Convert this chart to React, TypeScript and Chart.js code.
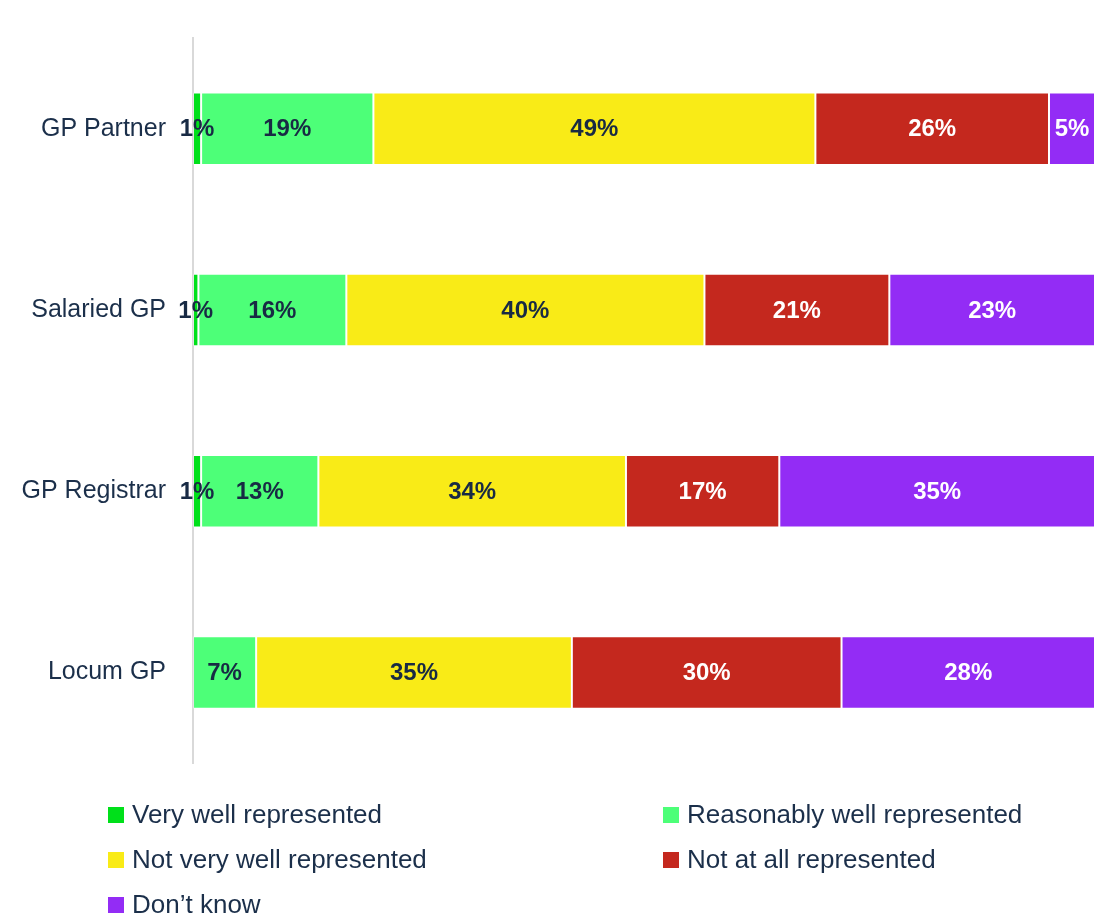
import React, { useEffect, useRef } from "react";
import { Chart, registerables } from "chart.js";

Chart.register(...registerables);

const categories = ["GP Partner", "Salaried GP", "GP Registrar", "Locum GP"];
const seriesNames = [
  "Very well represented",
  "Reasonably well represented",
  "Not very well represented",
  "Not at all represented",
  "Don\u2019t know",
];
const veryWell = [0.9, 0.6, 0.9, 0];
const reasonablyWell = [19.1, 16.4, 13.0, 7.0];
const notVeryWell = [49.0, 39.7, 34.1, 35.0];
const notAtAll = [25.9, 20.5, 17.0, 29.9];
const dontKnow = [5.1, 22.8, 35.0, 28.1];
const seriesColors = ["#00e01a", "#4dff78", "#f9eb17", "#c4281e", "#932cf5"];
const labelColors = ["#182a44", "#182a44", "#182a44", "#ffffff", "#ffffff"];

const TEXT = "#1b2f4a";

const labelPlugin = {
  id: "barLabels",
  afterDatasetsDraw(chart: any) {
    const ctx = chart.ctx;
    ctx.save();
    ctx.font = "bold 24px 'Liberation Sans', Arial, sans-serif";
    ctx.textAlign = "center";
    ctx.textBaseline = "middle";
    chart.data.datasets.forEach((ds: any, di: number) => {
      const meta = chart.getDatasetMeta(di);
      meta.data.forEach((el: any, i: number) => {
        const v = ds.data[i];
        if (!v) return;
        const p = el.getProps(["x", "y", "base"], true);
        ctx.fillStyle = labelColors[di];
        ctx.fillText(Math.round(v) + "%", (p.x + p.base) / 2, p.y + 1);
      });
    });
    ctx.restore();
  },
};

const legendPlugin = {
  id: "customLegend",
  afterDraw(chart: any) {
    const ctx = chart.ctx;
    ctx.save();
    ctx.font = "26px 'Liberation Sans', Arial, sans-serif";
    ctx.textBaseline = "middle";
    ctx.textAlign = "left";
    const cols = [108, 663];
    const rows = [815, 860, 905];
    chart.data.datasets.forEach((ds: any, i: number) => {
      const x = cols[i % 2];
      const y = rows[Math.floor(i / 2)];
      ctx.fillStyle = ds.backgroundColor;
      ctx.fillRect(x, y - 8, 16, 16);
      ctx.fillStyle = TEXT;
      ctx.fillText(ds.label, x + 24, y + 1);
    });
    ctx.restore();
  },
};

export default function App() {
  const ref = useRef<HTMLCanvasElement | null>(null);
  useEffect(() => {
    document.body.style.margin = "0";
    const seriesData = [veryWell, reasonablyWell, notVeryWell, notAtAll, dontKnow];
    const chart = new Chart(ref.current as HTMLCanvasElement, {
      type: "bar",
      data: {
        labels: categories,
        datasets: seriesData.map((d, i) => ({
          label: seriesNames[i],
          data: d,
          backgroundColor: seriesColors[i],
          borderColor: "rgba(255,255,255,0.3)",
          borderWidth: 1,
          borderSkipped: false,
          categoryPercentage: 0.4,
          barPercentage: 1,
        })),
      },
      options: {
        indexAxis: "y",
        animation: false,
        responsive: false,
        maintainAspectRatio: false,
        layout: { padding: { top: 38, right: 6, bottom: 159, left: 0 } },
        plugins: { legend: { display: false }, tooltip: { enabled: false } },
        scales: {
          x: { stacked: true, min: 0, max: 100, display: false },
          y: {
            stacked: true,
            grid: { display: false, drawTicks: false },
            border: { display: true, color: "#d9d9d9", width: 2 },
            ticks: {
              color: TEXT,
              font: { family: "'Liberation Sans', Arial, sans-serif", size: 25 },
              padding: 27,
            },
            afterFit(scale: any) {
              scale.width = 193;
              scale.paddingTop = 0;
              scale.paddingBottom = 0;
            },
          },
        },
      } as any,
      plugins: [labelPlugin, legendPlugin],
    });
    return () => chart.destroy();
  }, []);
  return <canvas ref={ref} width={1101} height={922} style={{ display: "block" }} />;
}
